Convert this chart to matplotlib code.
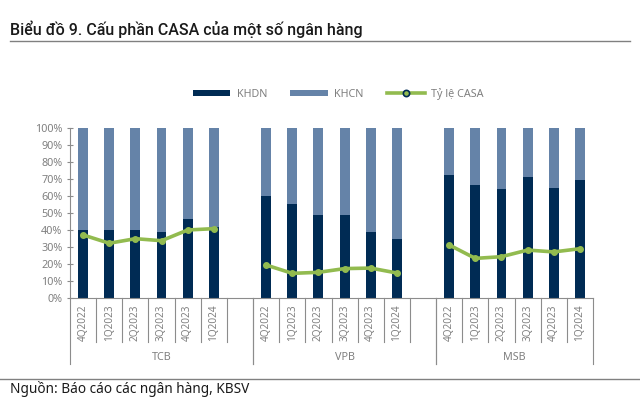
import matplotlib
matplotlib.use("Agg")
import matplotlib.pyplot as plt
from matplotlib.lines import Line2D
from matplotlib.patches import Patch
import matplotlib.transforms as mtransforms

plt.rcParams['font.family'] = ['Noto Sans', 'DejaVu Sans']

banks = ["TCB", "VPB", "MSB"]
quarters = ["4Q2022", "1Q2023", "2Q2023", "3Q2023", "4Q2023", "1Q2024"]
khdn = {
    "TCB": [40.2, 40.0, 39.8, 38.6, 46.7, 41.5],
    "VPB": [60.0, 55.1, 49.0, 49.0, 39.0, 34.9],
    "MSB": [72.2, 66.3, 64.3, 71.0, 64.7, 69.4],
}
casa = {
    "TCB": [37.1, 32.2, 34.9, 33.7, 40.0, 40.8],
    "VPB": [19.4, 14.5, 15.1, 17.3, 17.6, 14.7],
    "MSB": [31.2, 23.3, 24.3, 28.2, 27.1, 29.0],
}

C_KHDN = "#002b54"
C_KHCN = "#6583a8"
C_LINE = "#92bb4f"
GRAY = "#808080"
AXC = "#8c8c8c"

fig = plt.figure(figsize=(6.4, 4.11), dpi=100)
ax = fig.add_axes([70/640, 1-298/411, (593-70)/640, (298-128)/411])

slots_per_group = [7, 7, 6]
starts = [0, 7, 14]
bw = 0.38
for b, s in zip(banks, starts):
    xs = [s + i for i in range(len(quarters))]
    kd = khdn[b]
    kc = [100 - v for v in kd]
    ax.bar(xs, kd, width=bw, color=C_KHDN, zorder=2)
    ax.bar(xs, kc, bottom=kd, width=bw, color=C_KHCN, zorder=2)
    ax.plot(xs, casa[b], color=C_LINE, lw=2.6, marker="o", ms=4,
            mfc=C_LINE, mec=C_LINE, zorder=3, solid_capstyle="round")

ax.set_xlim(-0.5, 19.5)
ax.set_ylim(0, 100)
ax.set_yticks(range(0, 101, 10))
ax.set_yticklabels([f"{v}%" for v in range(0, 101, 10)], fontsize=7.8, color=GRAY)
ax.tick_params(axis="y", direction="inout", length=5, color=AXC, width=0.8, pad=3)
ax.set_xticks([])
for sp in ["top", "right"]:
    ax.spines[sp].set_visible(False)
for sp in ["left", "bottom"]:
    ax.spines[sp].set_color(AXC)
    ax.spines[sp].set_linewidth(0.8)

# category labels and separators
trans = mtransforms.blended_transform_factory(ax.transData, fig.transFigure)
y_ax = 1 - 298/411
y_small = 1 - 342/411
y_group = 1 - 364/411
for b, s, n in zip(banks, starts, slots_per_group):
    for i, q in enumerate(quarters):
        ax.text(s + i, 1 - 304/411, q, transform=trans, rotation=90,
                ha="center", va="top", fontsize=7.2, color=GRAY)
    for k in range(1, n):
        ax.add_line(Line2D([s + k - 0.5] * 2, [y_ax, y_small], transform=trans,
                           color=AXC, lw=0.8, clip_on=False))
    for xe in (s - 0.5, s + n - 0.5):
        ax.add_line(Line2D([xe] * 2, [y_ax, y_group], transform=trans,
                           color=AXC, lw=0.8, clip_on=False))
    ax.text(s + n / 2 - 0.5, 1 - 357/411, b, transform=trans, ha="center",
            va="center", fontsize=7.8, color=GRAY)

# legend
handles = [
    Patch(facecolor=C_KHDN, edgecolor="none"),
    Patch(facecolor=C_KHCN, edgecolor="none"),
    Line2D([], [], color=C_LINE, lw=2.6, marker="o", ms=4.5, mfc=C_LINE, mec=C_KHDN, mew=1.2),
]
leg = fig.legend(handles, ["KHDN", "KHCN", "Tỷ lệ CASA"], loc="center",
                 bbox_to_anchor=(338/640, 1 - 94/411), ncol=3, frameon=False,
                 fontsize=7.8, handlelength=3.5, handleheight=0.55,
                 columnspacing=2.1, handletextpad=0.6, labelcolor=GRAY)

# title, rules, source
fig.text(10/640, 1 - 29/411, "Biểu đồ 9. Cấu phần CASA của một số ngân hàng",
         fontsize=11.5, fontweight="medium", family=["Roboto", "Noto Sans", "DejaVu Sans"],
         color="#1a1a1a", ha="left", va="center")
fig.add_artist(Line2D([10/640, 630/640], [1 - 41/411] * 2, color="#808080", lw=1.0))
fig.add_artist(Line2D([0/640, 640/640], [1 - 379/411] * 2, color="#808080", lw=1.0))
fig.text(10/640, 1 - 389/411, "Nguồn: Báo cáo các ngân hàng, KBSV",
         fontsize=9.8, color="#1a1a1a", ha="left", va="center")

fig.savefig("out.png", dpi=100)
